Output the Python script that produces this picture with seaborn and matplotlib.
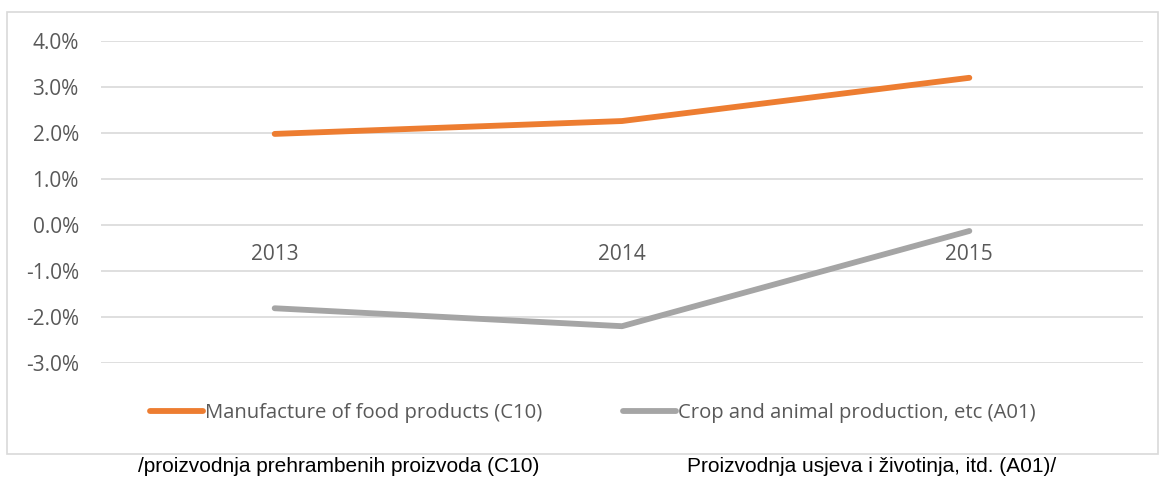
import matplotlib
matplotlib.use("Agg")
import matplotlib.pyplot as plt
import matplotlib.ticker as mticker
from matplotlib.patches import Rectangle
import seaborn as sns
import pandas as pd

years = ["2013", "2014", "2015"]
food_c10 = [1.98, 2.26, 3.20]
crop_a01 = [-1.81, -2.20, -0.13]
series_names = ["Manufacture of food products (C10)", "Crop and animal production, etc (A01)"]
y_ticks = [-3, -2, -1, 0, 1, 2, 3, 4]
footer_left = "/proizvodnja prehrambenih proizvoda (C10)"
footer_right = "Proizvodnja usjeva i životinja, itd. (A01)/"

df = pd.DataFrame({
    "year": years * 2,
    "value": food_c10 + crop_a01,
    "series": [series_names[0]] * 3 + [series_names[1]] * 3,
})

sns.set_style("white")
plt.rcParams["font.family"] = ["Open Sans", "DejaVu Sans"]

W, H = 1160, 479
fig = plt.figure(figsize=(W / 100, H / 100), dpi=100)
ax = fig.add_axes([101 / W, 1 - 363 / H, (1143 - 101) / W, (363 - 41) / H])

palette = {series_names[0]: "#ED7D31", series_names[1]: "#A5A5A5"}
sns.lineplot(data=df, x="year", y="value", hue="series", palette=palette,
             linewidth=4.2, sort=False, ax=ax, legend=True)
for ln in ax.get_lines():
    ln.set_solid_capstyle("round")
    ln.set_solid_joinstyle("round")

ax.set_xlim(-0.5, 2.5)
ax.set_ylim(-3, 4)
ax.yaxis.set_major_locator(mticker.FixedLocator(y_ticks))
ax.yaxis.set_major_formatter(mticker.FuncFormatter(lambda v, p: f"{v:.1f}%"))
ax.grid(axis="y", color="#D9D9D9", linewidth=1.2)
ax.set_axisbelow(True)
for s in ax.spines.values():
    s.set_visible(False)
ax.spines["bottom"].set_position(("data", 0))
ax.tick_params(axis="both", length=0, labelsize=15, colors="#595959")
ax.tick_params(axis="x", pad=14)
ax.tick_params(axis="y", pad=16)
ax.set_xlabel("")
ax.set_ylabel("")

handles, labels = ax.get_legend_handles_labels()
ax.legend(handles, labels, loc="center", bbox_to_anchor=(593 / W, 1 - 413 / H),
          bbox_transform=fig.transFigure, ncol=2, frameon=False,
          fontsize=14.6, handlelength=2.6, handletextpad=0.1, columnspacing=4.0,
          labelcolor="#595959")
for lh in ax.get_legend().get_lines():
    lh.set_linewidth(4.2)
    lh.set_solid_capstyle("round")

fig.patches.append(Rectangle((7 / W, 1 - 454 / H), (1158 - 7) / W, (454 - 12) / H,
                             transform=fig.transFigure, fill=False,
                             edgecolor="#D9D9D9", linewidth=1.2))

fig.text(339 / W, 1 - 467 / H, footer_left, ha="center", va="center",
         fontsize=15, color="black", family=["Liberation Sans", "DejaVu Sans"])
fig.text(872 / W, 1 - 467 / H, footer_right, ha="center", va="center",
         fontsize=15, color="black", family=["Liberation Sans", "DejaVu Sans"])

fig.savefig("out.png", dpi=100)
